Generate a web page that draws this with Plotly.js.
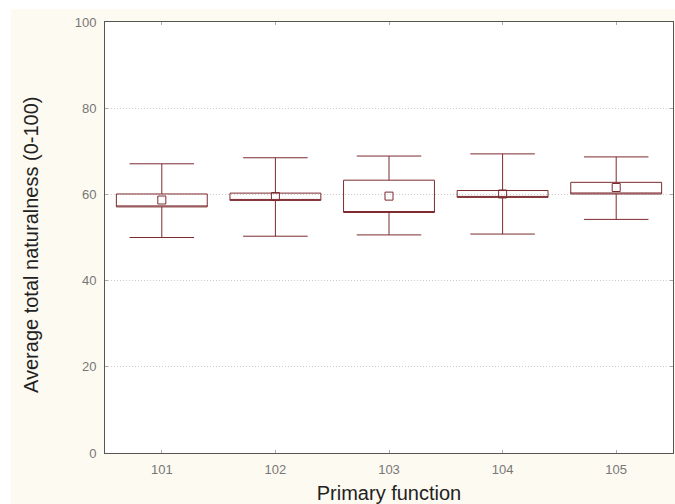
<!DOCTYPE html>
<html>
<head>
<meta charset="utf-8">
<script src="https://cdn.plot.ly/plotly-3.0.1.min.js"></script>
<style>html,body{margin:0;padding:0;background:#fff;}#chart{width:675px;height:504px;}</style>
</head>
<body>
<div id="chart"></div>
<script>
var categories = ["101", "102", "103", "104", "105"];
var means      = [58.7, 59.5, 59.6, 60.1, 61.6];
var boxLow     = [57.1, 58.6, 55.8, 59.3, 60.1];
var boxHigh    = [60.1, 60.3, 63.3, 60.9, 62.8];
var whiskLow   = [50.0, 50.3, 50.6, 50.8, 54.2];
var whiskHigh  = [67.1, 68.5, 68.9, 69.4, 68.7];
var yTicks     = [0, 20, 40, 60, 80, 100];
var xTitle     = "Primary function";
var yTitle     = "Average total naturalness (0-100)";

var lineColor = "#7d2b2f";

var boxTrace = {
  type: "box",
  x: categories,
  q1: boxLow,
  median: boxLow,
  q3: boxHigh,
  lowerfence: whiskLow,
  upperfence: whiskHigh,
  width: 0.8,
  whiskerwidth: 0.71,
  fillcolor: "rgba(0,0,0,0)",
  line: {color: lineColor, width: 1},
  boxpoints: false,
  hoverinfo: "skip",
  showlegend: false
};

var meanTrace = {
  type: "scatter",
  mode: "markers",
  x: categories,
  y: means,
  marker: {symbol: "square-open", size: 8, color: lineColor, line: {width: 1, color: lineColor}},
  showlegend: false
};

var layout = {
  width: 675,
  height: 504,
  margin: {l: 105, r: 2, t: 22, b: 51},
  paper_bgcolor: "#fdfaf1",
  plot_bgcolor: "#ffffff",
  font: {family: "Liberation Sans, Arial, sans-serif", size: 13, color: "#777"},
  showlegend: false,
  xaxis: {
    type: "category",
    range: [-0.5, 4.5],
    showgrid: false,
    zeroline: false,
    showline: true,
    linecolor: "#555",
    linewidth: 1,
    mirror: "ticks",
    ticks: "inside",
    ticklen: 3,
    tickcolor: "#aaa",
    ticklabelstandoff: 4,
    tickfont: {size: 13, color: "#777"},
    title: {text: xTitle, font: {size: 20, color: "#222"}, standoff: 11}
  },
  yaxis: {
    range: [0, 100],
    tickvals: yTicks,
    ticktext: yTicks.map(String),
    showgrid: true,
    gridcolor: "#cccccc",
    griddash: "1px,2px",
    zeroline: false,
    showline: true,
    linecolor: "#555",
    linewidth: 1,
    mirror: "ticks",
    ticks: "inside",
    ticklen: 3,
    tickcolor: "#aaa",
    ticklabelstandoff: 5,
    tickfont: {size: 13, color: "#777"}
  },
  annotations: [
    {text: yTitle, xref: "paper", yref: "paper", x: (31 - 105) / 568, y: (453 - 245) / 431,
     xanchor: "center", yanchor: "middle", textangle: -90, showarrow: false,
     font: {size: 20, color: "#222"}}
  ],
  shapes: [
    {type: "rect", xref: "paper", yref: "paper", x0: -0.19, x1: (11 - 105) / 568, y0: -0.2, y1: 1.1, fillcolor: "#ffffff", line: {width: 0}, layer: "above"},
    {type: "rect", xref: "paper", yref: "paper", x0: -0.19, x1: 1.1, y0: (453 - 9) / 431, y1: 1.1, fillcolor: "#ffffff", line: {width: 0}, layer: "above"}
  ]
};

Plotly.newPlot("chart", [boxTrace, meanTrace], layout, {staticPlot: true, displayModeBar: false});
</script>
</body>
</html>
